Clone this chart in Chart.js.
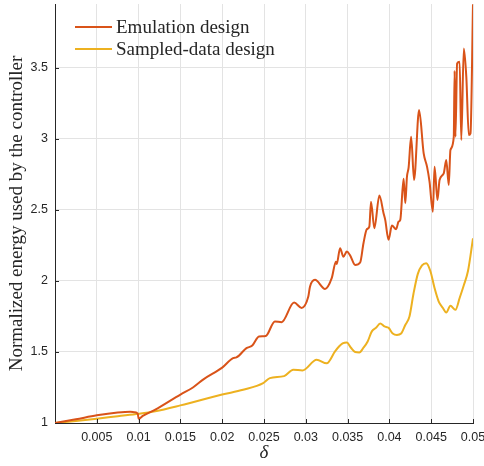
<!DOCTYPE html>
<html>
<head>
<meta charset="utf-8">
<script src="https://cdn.jsdelivr.net/npm/chart.js@4.4.1/dist/chart.umd.min.js"></script>
<style>
  html, body { margin: 0; padding: 0; background: #fff; }
  #wrap { width: 484px; height: 466px; position: relative; }
</style>
</head>
<body>
<div id="wrap"><canvas id="grafico"></canvas></div>
<script>
// datos
const emulationX = [0, 0.0025, 0.005, 0.0075, 0.009, 0.0095, 0.0099, 0.01, 0.0105, 0.012, 0.015, 0.0165, 0.0178, 0.02,
  0.0213, 0.0217, 0.0229, 0.0236, 0.0244, 0.0252, 0.0263, 0.0271, 0.0286, 0.0295, 0.0303, 0.0305, 0.0311, 0.0323,
  0.0331, 0.0336, 0.0337, 0.0341, 0.0345, 0.0349, 0.0353, 0.0359, 0.0365, 0.0369, 0.0373, 0.0376, 0.0378, 0.0382,
  0.0388, 0.0393, 0.0395, 0.0399, 0.0403, 0.0408, 0.0411, 0.0413, 0.0417, 0.0419, 0.0421, 0.0423, 0.0426, 0.04295,
  0.04355, 0.0441, 0.0445, 0.0448, 0.0452, 0.0454, 0.04575, 0.046, 0.0465, 0.0468, 0.0471, 0.0473, 0.0477, 0.0478,
  0.0479, 0.0481, 0.0484, 0.0486, 0.0489, 0.0492, 0.0495, 0.0497, 0.05];
const emulationY = [1.0, 1.026, 1.054, 1.074, 1.08, 1.076, 1.065, 1.03, 1.05, 1.094, 1.2, 1.25, 1.309, 1.39,
  1.457, 1.462, 1.527, 1.545, 1.609, 1.612, 1.715, 1.71, 1.848, 1.81, 1.89, 1.96, 2.008, 1.944,
  2.02, 2.136, 2.12, 2.23, 2.17, 2.207, 2.18, 2.113, 2.13, 2.266, 2.364, 2.383, 2.558, 2.371,
  2.601, 2.477, 2.43, 2.29, 2.39, 2.364, 2.418, 2.43, 2.72, 2.547, 2.734, 2.8, 3.015, 2.711,
  3.203, 2.898, 2.805, 2.699, 2.488, 2.805, 2.57, 2.711, 2.758, 2.851, 2.676, 2.922, 3.015, 3.479,
  3.015, 3.531, 3.543, 2.992, 3.636, 3.437, 3.027, 3.039, 3.948];

const sampledX = [0, 0.0025, 0.005, 0.0075, 0.01, 0.012, 0.015, 0.02, 0.0225, 0.0249, 0.0257, 0.0274, 0.0285, 0.0296,
  0.0313, 0.0325, 0.0335, 0.034, 0.0344, 0.0349, 0.0354, 0.0359, 0.0364, 0.0369, 0.0374, 0.0379, 0.0384, 0.0389,
  0.0394, 0.0399, 0.0404, 0.0409, 0.0414, 0.0419, 0.0424, 0.04288, 0.0434, 0.0439, 0.0444, 0.0449, 0.0454, 0.0459,
  0.0464, 0.0468, 0.0473, 0.0479, 0.0484, 0.0489, 0.0494, 0.05];
const sampledY = [1.0, 1.014, 1.03, 1.048, 1.065, 1.083, 1.124, 1.2, 1.234, 1.28, 1.316, 1.33, 1.375, 1.37,
  1.445, 1.42, 1.504, 1.54, 1.56, 1.567, 1.53, 1.5, 1.497, 1.53, 1.574, 1.645, 1.67, 1.7,
  1.68, 1.67, 1.63, 1.62, 1.63, 1.69, 1.75, 1.91, 2.05, 2.11, 2.125, 2.07, 1.95, 1.855,
  1.81, 1.778, 1.825, 1.797, 1.88, 1.97, 2.07, 2.3];

const xTicks = [0.005, 0.01, 0.015, 0.02, 0.025, 0.03, 0.035, 0.04, 0.045, 0.05];
const yTicks = [1, 1.5, 2, 2.5, 3, 3.5];

const seriesNames = ["Emulation design", "Sampled-data design"];
const seriesColors = ["#d95319", "#edb120"];

const serif = "'Liberation Serif', 'Times New Roman', serif";
const sans = "'Liberation Sans', Arial, sans-serif";
const ink = "#262626";

function puntos(xs, ys) {
  return xs.map((x, i) => ({ x: x, y: ys[i] }));
}

// marcas hacia dentro, como en MATLAB
const marcasInternas = {
  id: "marcasInternas",
  afterDraw(chart) {
    const ctx = chart.ctx;
    const xs = chart.scales.x;
    const ys = chart.scales.y;
    const area = chart.chartArea;
    ctx.save();
    ctx.strokeStyle = ink;
    ctx.lineWidth = 1;
    ctx.beginPath();
    xTicks.forEach((v) => {
      const px = Math.round(xs.getPixelForValue(v)) + 0.5;
      ctx.moveTo(px, area.bottom);
      ctx.lineTo(px, area.bottom - 4);
    });
    yTicks.forEach((v) => {
      const py = Math.round(ys.getPixelForValue(v)) + 0.5;
      ctx.moveTo(area.left, py);
      ctx.lineTo(area.left + 4, py);
    });
    ctx.stroke();
    ctx.restore();
  },
};

// leyenda dentro del area
const leyenda = {
  id: "leyenda",
  afterDraw(chart) {
    const ctx = chart.ctx;
    ctx.save();
    ctx.font = "19px " + serif;
    ctx.textBaseline = "middle";
    ctx.textAlign = "left";
    seriesNames.forEach((name, i) => {
      const y = 27 + i * 22;
      ctx.strokeStyle = seriesColors[i];
      ctx.lineWidth = 2;
      ctx.beginPath();
      ctx.moveTo(75, y);
      ctx.lineTo(112, y);
      ctx.stroke();
      ctx.fillStyle = ink;
      ctx.fillText(name, 116, y + 1);
    });
    ctx.restore();
  },
};

new Chart(document.getElementById("grafico"), {
  type: "line",
  data: {
    datasets: [
      {
        label: seriesNames[0],
        data: puntos(emulationX, emulationY),
        borderColor: seriesColors[0],
        borderWidth: 2,
        pointRadius: 0,
        cubicInterpolationMode: "monotone",
      },
      {
        label: seriesNames[1],
        data: puntos(sampledX, sampledY),
        borderColor: seriesColors[1],
        borderWidth: 2,
        pointRadius: 0,
        cubicInterpolationMode: "monotone",
      },
    ],
  },
  options: {
    responsive: true,
    maintainAspectRatio: false,
    animation: false,
    layout: { padding: { top: 4, right: 11, left: 0, bottom: 0 } },
    plugins: { legend: { display: false }, tooltip: { enabled: false } },
    scales: {
      x: {
        type: "linear",
        min: 0,
        max: 0.05,
        afterBuildTicks: (s) => { s.ticks = xTicks.map((v) => ({ value: v })); },
        afterFit: (s) => { s.height = 43; s.paddingLeft = 0; s.paddingRight = 0; },
        grid: { color: "#e3e3e3", drawTicks: false },
        border: { color: ink, width: 1 },
        ticks: {
          padding: 7,
          color: ink,
          font: { family: sans, size: 12.5 },
          maxRotation: 0,
          callback: (v) => String(v),
        },
        title: {
          display: true,
          text: "δ",
          color: ink,
          font: { family: serif, size: 19, style: "italic" },
          padding: { top: 0, bottom: 2 },
        },
      },
      y: {
        min: 1,
        max: 3.95,
        afterBuildTicks: (s) => { s.ticks = yTicks.map((v) => ({ value: v })); },
        afterFit: (s) => { s.width = 55; s.paddingTop = 0; s.paddingBottom = 0; },
        grid: { color: "#e3e3e3", drawTicks: false },
        border: { color: ink, width: 1 },
        ticks: {
          padding: 7,
          color: ink,
          font: { family: sans, size: 12.5 },
          callback: (v) => String(v),
        },
        title: {
          display: true,
          text: "Normalized energy used by the controller",
          color: ink,
          font: { family: serif, size: 19 },
          padding: { top: 5.5, bottom: 0 },
        },
      },
    },
  },
  plugins: [marcasInternas, leyenda],
});
</script>
</body>
</html>
